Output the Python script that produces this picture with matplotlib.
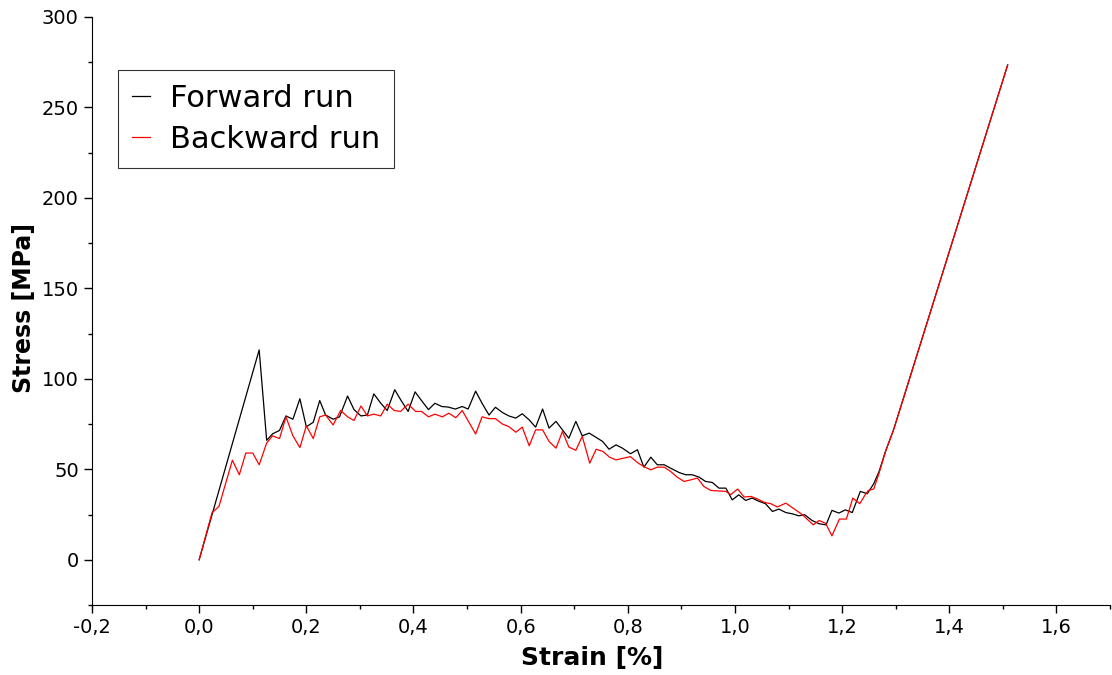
import matplotlib
matplotlib.use("Agg")
import matplotlib.pyplot as plt
from matplotlib.ticker import MultipleLocator, FuncFormatter

# Forward run
fwd_x = [0, 0.112, 0.126, 0.137, 0.150, 0.162, 0.175, 0.188, 0.200, 0.213, 0.225, 0.236, 0.250, 0.262,
         0.277, 0.289, 0.302, 0.314, 0.326, 0.339, 0.351, 0.365, 0.377, 0.390, 0.403, 0.415, 0.428, 0.440,
         0.453, 0.465, 0.478, 0.491, 0.502, 0.516, 0.528, 0.541, 0.553, 0.566, 0.578, 0.591, 0.603, 0.616,
         0.628, 0.641, 0.653, 0.666, 0.678, 0.690, 0.703, 0.715, 0.728, 0.740, 0.753, 0.765, 0.778, 0.790,
         0.805, 0.818, 0.830, 0.843, 0.855, 0.868, 0.880, 0.896, 0.908, 0.920, 0.933, 0.945, 0.958, 0.970,
         0.983, 0.995, 1.007, 1.020, 1.032, 1.045, 1.057, 1.070, 1.082, 1.095, 1.107, 1.119, 1.130, 1.144,
         1.157, 1.170, 1.181, 1.194, 1.206, 1.219, 1.234, 1.247, 1.259, 1.269, 1.281, 1.296, 1.509]
fwd_y = [0, 116, 66, 69.6, 71.5, 79.5, 77.7, 89, 73.5, 76, 88, 80, 77.7, 79,
         90.5, 83, 79.5, 80, 91.7, 86.5, 82.5, 94, 88, 82, 92.8, 88, 83, 86.5,
         84.7, 84.4, 83.3, 84.7, 83.3, 93.2, 86.5, 80, 84.3, 81.4, 79.5, 78.3, 80.7, 77.3,
         73.3, 83.3, 72.8, 76.5, 71.8, 67.2, 76.5, 68.5, 70, 67.8, 65.4, 61.1, 63.5, 61.7,
         58.6, 60.8, 51.2, 56.7, 52.5, 52.5, 50.6, 48.2, 47, 47, 45.7, 43.3, 42.7, 39.6,
         39.6, 33.1, 35.9, 32.8, 34.1, 32.3, 31, 26.7, 28, 26.1, 25.4, 24.3, 24.9, 21.7,
         19.9, 19.3, 27.3, 25.8, 27.6, 26.1, 37.8, 36.5, 42, 48.8, 59.9, 71.8, 273.5]

# Backward run
bwd_x = [0, 0.024, 0.037, 0.062, 0.075, 0.087, 0.100, 0.112, 0.126, 0.137, 0.150, 0.162, 0.175, 0.188,
         0.200, 0.213, 0.225, 0.236, 0.250, 0.264, 0.277, 0.289, 0.302, 0.314, 0.326, 0.339, 0.351, 0.364,
         0.376, 0.390, 0.404, 0.415, 0.428, 0.440, 0.454, 0.466, 0.479, 0.491, 0.516, 0.528, 0.541, 0.553,
         0.566, 0.578, 0.591, 0.603, 0.616, 0.628, 0.641, 0.653, 0.666, 0.678, 0.690, 0.703, 0.715, 0.729,
         0.741, 0.754, 0.766, 0.778, 0.791, 0.805, 0.818, 0.830, 0.843, 0.855, 0.868, 0.880, 0.892, 0.905,
         0.918, 0.930, 0.942, 0.955, 0.983, 0.992, 1.005, 1.017, 1.030, 1.042, 1.055, 1.067, 1.079, 1.095,
         1.126, 1.146, 1.157, 1.169, 1.181, 1.195, 1.208, 1.220, 1.233, 1.243, 1.249, 1.259, 1.269, 1.281,
         1.296, 1.509]
bwd_y = [0, 26, 29.5, 55, 47, 59, 59, 52.5, 64.5, 68.5, 67, 79, 68.5, 62,
         74, 67, 79, 80, 74.5, 82.5, 79, 77, 85, 79.5, 80.5, 79.5, 86, 82.5,
         82, 86, 82, 82, 79, 80.5, 79, 81, 78.5, 82.5, 69.5, 79, 78, 78,
         75, 73.6, 70.5, 73.3, 63, 71.8, 71.8, 65.4, 61.7, 70.9, 62.3, 60.5, 68.2, 53.4,
         61.1, 59.8, 56.7, 55.2, 56.1, 57, 53.7, 51.5, 49.7, 51.2, 51.2, 48.8, 45.7, 43.3,
         44.2, 45.2, 40.5, 38.3, 37.8, 36, 39.1, 34.7, 35, 33.6, 31.7, 31, 29.2, 31.3,
         24.9, 19.3, 21.7, 20.2, 13.2, 22.5, 22.5, 34.1, 31, 35.9, 38.3, 39.1, 47.9, 59.9,
         71.8, 273.5]

labels = ["Forward run", "Backward run"]

plt.rcParams['font.family'] = ['DejaVu Sans']
fig = plt.figure(figsize=(11.12, 6.75), dpi=100)
ax = fig.add_axes([92/1112, 1-605/675, 1018/1112, 588/675])

ax.plot(fwd_x, fwd_y, color='black', lw=0.9, label=labels[0])
ax.plot(bwd_x, bwd_y, color='red', lw=0.9, label=labels[1])

ax.set_xlim(-0.2, 1.7)
ax.set_ylim(-25, 300)
ax.spines['top'].set_visible(False)
ax.spines['right'].set_visible(False)
ax.xaxis.set_major_locator(MultipleLocator(0.2))
ax.xaxis.set_minor_locator(MultipleLocator(0.1))
ax.yaxis.set_major_locator(MultipleLocator(50))
ax.yaxis.set_minor_locator(MultipleLocator(25))
ax.xaxis.set_major_formatter(FuncFormatter(lambda v, p: f"{v:.1f}".replace('.', ',').replace('\u2212', '-')))
ax.yaxis.set_major_formatter(FuncFormatter(lambda v, p: f"{v:.0f}"))
ax.tick_params(which='major', length=6, width=1, labelsize=14, direction='out')
ax.tick_params(which='minor', length=3, width=1, direction='out')

ax.set_xlabel("Strain [%]", fontsize=18, fontweight='bold', va='center')
ax.set_ylabel("Stress [MPa]", fontsize=17, fontweight='bold', va='center')
ax.xaxis.set_label_coords((592 - 92) / 1018, -(658 - 605) / 588)
ax.yaxis.set_label_coords(-(92 - 24) / 1018, (605 - 308) / 588)

leg = ax.legend(loc='upper left', bbox_to_anchor=(26/1018, 535/588), borderaxespad=0,
                fontsize=22, frameon=True, fancybox=False, edgecolor='black',
                handlelength=0.6, handletextpad=0.65, borderpad=0.45, labelspacing=0.4)
leg.get_frame().set_linewidth(0.8)

fig.savefig("out.png", dpi=100)
